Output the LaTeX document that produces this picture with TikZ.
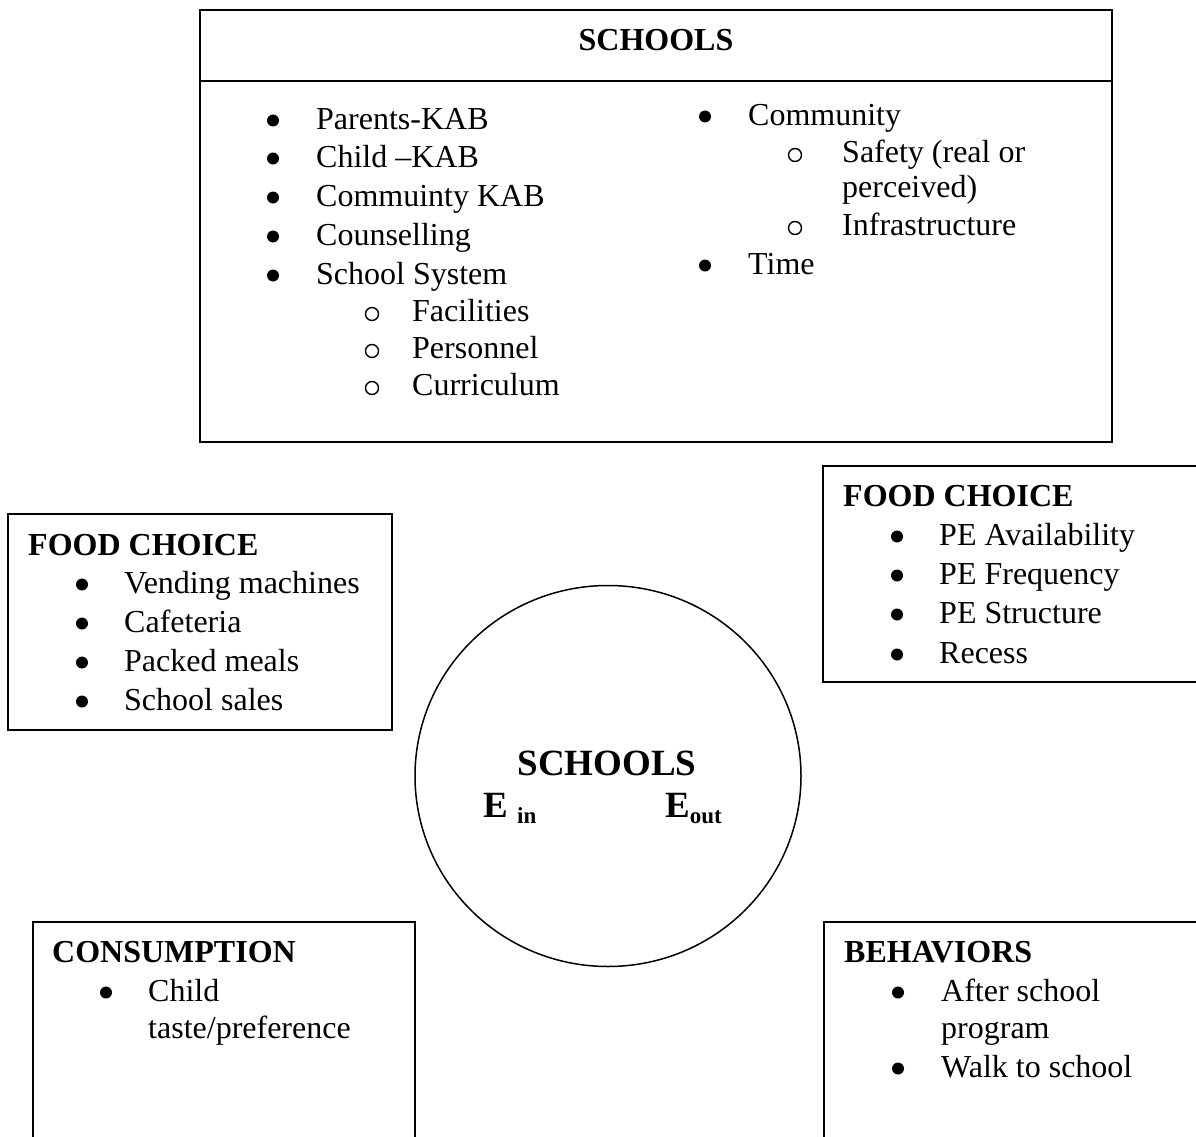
\documentclass[tikz,border=0pt]{standalone}
\usepackage{fontspec}
\setmainfont{Liberation Serif}
\begin{document}
\begin{tikzpicture}[x=1pt,y=-1pt,
  frame/.style={line width=2pt, line join=miter},
  body/.style={anchor=base west, inner sep=0pt, font=\fontsize{32}{38}\selectfont},
  head/.style={anchor=base west, inner sep=0pt, font=\fontsize{32}{38}\selectfont\bfseries},
  dot/.style={circle, fill=black, inner sep=0pt, minimum size=12pt, yshift=8.5pt},
  ring/.style={circle, draw=black, line width=1.4pt, inner sep=0pt, minimum size=13pt, yshift=7pt},
  big/.style={anchor=base, inner sep=0pt, font=\fontsize{37}{44}\selectfont\bfseries},
  energy/.style={anchor=base west, inner sep=0pt, font=\fontsize{37}{44}\selectfont\bfseries}]
\useasboundingbox (0,0) rectangle (1196,1137);

% ---- top box: SCHOOLS ----
\draw[frame] (200,10) rectangle (1112,442);
\draw[frame] (200,81) -- (1112,81);
\node[head, anchor=base] (topT) at (656,51) {SCHOOLS};

\node[dot] (b1) at (273,129) {}; \node[body] (t1) at (316,129) {Parents-KAB};
\node[dot] (b2) at (273,167) {}; \node[body] (t2) at (316,167) {Child –KAB};
\node[dot] (b3) at (273,206) {}; \node[body] (t3) at (316,206) {Commuinty KAB};
\node[dot] (b4) at (273,245) {}; \node[body] (t4) at (316,245) {Counselling};
\node[dot] (b5) at (273,284) {}; \node[body] (t5) at (316,284) {School System};
\node[ring] (r1) at (372,321) {}; \node[body] (s1) at (412,321) {Facilities};
\node[ring] (r2) at (372,358) {}; \node[body] (s2) at (412,358) {Personnel};
\node[ring] (r3) at (372,395) {}; \node[body] (s3) at (412,395) {Curriculum};

\node[dot] (b6) at (705,125) {}; \node[body] (t6) at (748,125) {Community};
\node[ring] (r4) at (795,162) {}; \node[body] (s4) at (842,162) {Safety (real or};
\node[body] (s4b) at (842,197) {perceived)};
\node[ring] (r5) at (795,235) {}; \node[body] (s5) at (842,235) {Infrastructure};
\node[dot] (b7) at (705,274) {}; \node[body] (t7) at (748,274) {Time};

% ---- left box: FOOD CHOICE ----
\draw[frame] (8,514) rectangle (392,730);
\node[head] (lfT) at (28,555) {FOOD CHOICE};
\node[dot] (lb1) at (82,593) {}; \node[body] (lf1) at (124,593) {Vending machines};
\node[dot] (lb2) at (82,632) {}; \node[body] (lf2) at (124,632) {Cafeteria};
\node[dot] (lb3) at (82,671) {}; \node[body] (lf3) at (124,671) {Packed meals};
\node[dot] (lb4) at (82,710) {}; \node[body] (lf4) at (124,710) {School sales};

% ---- right box: FOOD CHOICE (runs past the right edge) ----
\draw[frame] (1196,466) -- (823,466) -- (823,682) -- (1196,682);
\node[head] (rfT) at (843,506) {FOOD CHOICE};
\node[dot] (rb1) at (897,545) {}; \node[body] (rf1) at (939,545) {PE Availability};
\node[dot] (rb2) at (897,584) {}; \node[body] (rf2) at (939,584) {PE Frequency};
\node[dot] (rb3) at (897,623) {}; \node[body] (rf3) at (939,623) {PE Structure};
\node[dot] (rb4) at (897,663) {}; \node[body] (rf4) at (939,663) {Recess};

% ---- centre circle ----
\draw[line width=1.5pt] (608,776) ellipse [x radius=193pt, y radius=190.5pt];
\node[big] (cT) at (607,775) {SCHOOLS};
\node[energy] (ein) at (483,817) {E \raisebox{-6pt}{\fontsize{23}{26}\selectfont in}};
\node[energy] (eout) at (665,817) {E\raisebox{-6pt}{\fontsize{23}{26}\selectfont out}};

% ---- bottom left box: CONSUMPTION (open at the bottom) ----
\draw[frame] (33,1137) -- (33,922) -- (415,922) -- (415,1137);
\node[head] (cnT) at (52,962) {CONSUMPTION};
\node[dot] (cb1) at (106,1001) {}; \node[body] (cn1) at (148,1001) {Child};
\node[body] (cn1b) at (148,1038) {taste/preference};

% ---- bottom right box: BEHAVIORS (open at the bottom and right) ----
\draw[frame] (1196,922) -- (824,922) -- (824,1137);
\node[head] (bhT) at (844,962) {BEHAVIORS};
\node[dot] (hb1) at (898,1001) {}; \node[body] (bh1) at (941,1001) {After school};
\node[body] (bh1b) at (941,1038) {program};
\node[dot] (hb2) at (898,1077) {}; \node[body] (bh2) at (941,1077) {Walk to school};
\end{tikzpicture}
\end{document}
